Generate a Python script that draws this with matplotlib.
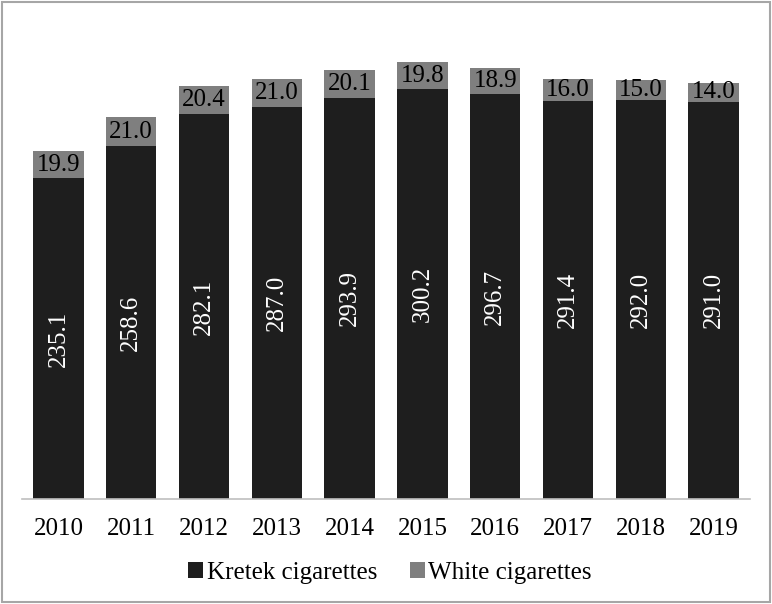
import numpy as np
import matplotlib.pyplot as plt
from matplotlib.patches import Rectangle

plt.rcParams['font.family'] = ['Liberation Serif', 'DejaVu Serif']

years = ['2010', '2011', '2012', '2013', '2014', '2015', '2016', '2017', '2018', '2019']
kretek = [235.1, 258.6, 282.1, 287.0, 293.9, 300.2, 296.7, 291.4, 292.0, 291.0]
white = [19.9, 21.0, 20.4, 21.0, 20.1, 19.8, 18.9, 16.0, 15.0, 14.0]

fig = plt.figure(figsize=(7.72, 6.04), dpi=100)
ax = fig.add_axes([0.0285, 0.1738, 0.943, 0.791])

x = np.arange(len(years))
b1 = ax.bar(x, kretek, width=0.69, color='#1e1e1e', label='Kretek cigarettes')
b2 = ax.bar(x, white, width=0.69, bottom=kretek, color='#7f7f7f', label='White cigarettes')

for i in range(len(years)):
    ax.text(x[i], kretek[i] / 2, '%.1f' % kretek[i], rotation=90, color='white',
            ha='center', va='center', fontsize=18)
    ax.text(x[i], kretek[i] + white[i] / 2, '%.1f' % white[i], color='black',
            ha='center', va='center', fontsize=18)

ax.set_xlim(-0.5, 9.5)
ax.set_ylim(0, 350)
ax.set_xticks(x)
ax.set_xticklabels(years, fontsize=18)
ax.tick_params(axis='x', length=0, pad=14)
ax.set_yticks([])
for s in ['top', 'right', 'left']:
    ax.spines[s].set_visible(False)
ax.spines['bottom'].set_color('#bfbfbf')
ax.spines['bottom'].set_linewidth(1.2)

fig.legend(handles=[b1, b2], loc='center', bbox_to_anchor=(0.505, 0.051),
           ncol=2, frameon=False, fontsize=18, handlelength=0.6, handleheight=0.6,
           handletextpad=0.15, columnspacing=1.3)

fig.add_artist(Rectangle((0.003, 0.004), 0.994, 0.992, transform=fig.transFigure,
                         fill=False, edgecolor='#a6a6a6', linewidth=1.5))

fig.savefig('out.png', dpi=100)
